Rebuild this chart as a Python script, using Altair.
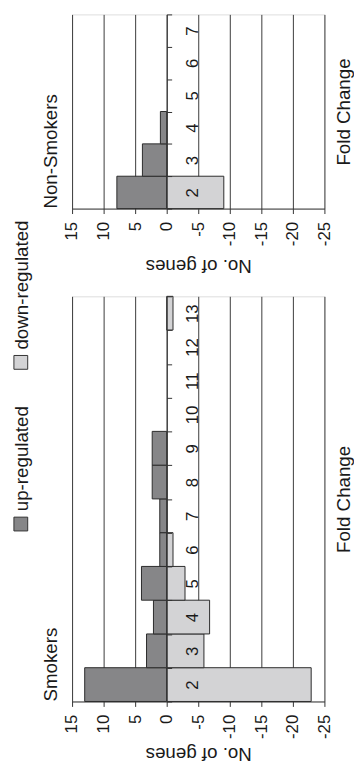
import altair as alt
import pandas as pd

FONT = "Liberation Sans"

directions = ["up-regulated", "down-regulated"]
colors = ["#868688", "#d3d3d5"]
gene_ticks = [15, 10, 5, 0, -5, -10, -15, -20, -25]

folds_smokers = [2, 3, 4, 5, 6, 7, 8, 9, 10, 11, 12, 13]
smokers_up = [13.0, 3.2, 2.1, 4.0, 1.1, 1.1, 2.3, 2.3, 0, 0, 0, 0]
smokers_down = [-22.9, -5.9, -6.8, -2.9, -1.0, 0, 0, 0, 0, 0, 0, -1.0]

folds_nonsmokers = [2, 3, 4, 5, 6, 7]
nonsmokers_up = [7.9, 3.85, 1.0, 0, 0, 0]
nonsmokers_down = [-9.05, 0, 0, 0, 0, 0]

panel_names = ["Non-Smokers", "Smokers"]

color_scale = alt.Scale(domain=directions, range=colors)


def long_table(folds, up, down):
    rows = []
    for f, u, d in zip(folds, up, down):
        if u:
            rows.append({"fold": f, "direction": directions[0], "value": u})
        if d:
            rows.append({"fold": f, "direction": directions[1], "value": d})
    return pd.DataFrame(rows)


def bars(folds, up, down, height, title_y):
    df = long_table(folds, up, down)
    return alt.Chart(df).mark_bar(stroke="#2b2b2b", strokeWidth=1, opacity=1).encode(
        x=alt.X(
            "value:Q",
            scale=alt.Scale(domain=[-25, 15], reverse=True, nice=False, zero=False),
            axis=alt.Axis(
                values=gene_ticks, labelExpr="'' + datum.value",
                title="No. of genes", titleAngle=180, titleY=title_y,
                titleBaseline="middle", titleFontSize=19, titleFontWeight="normal",
                titleColor="#1a1a1a", labelAngle=270, labelAlign="right",
                labelBaseline="middle", labelFontSize=17, labelPadding=8,
                labelFlush=False, labelOverlap=False, labelColor="#1a1a1a",
                tickSize=5, tickColor="#333", domainColor="#333",
                grid=True, gridColor="#3a3a3a", gridOpacity=1,
            ),
        ),
        x2=alt.datum(0),
        y=alt.Y(
            "fold:O",
            scale=alt.Scale(domain=folds[::-1], paddingInner=0, paddingOuter=0),
            axis=alt.Axis(
                orient="right", offset=-160, title="Fold Change", titleAngle=270,
                titleX=179, titleY=height / 2, titleBaseline="middle", titleAlign="center",
                titleFontSize=19, titleFontWeight="normal", titleColor="#1a1a1a",
                labelAngle=270, labelAlign="center", labelBaseline="middle",
                labelFontSize=17, labelPadding=21, labelColor="#1a1a1a",
                tickSize=5, tickBand="extent", tickColor="#333", domainColor="#333",
                grid=False, zindex=1,
            ),
        ),
        color=alt.Color("direction:N", scale=color_scale, legend=None),
    )


def panel_title(text, height):
    d = pd.DataFrame({"name": [text]})
    return alt.Chart(d).mark_text(angle=270, align="left", baseline="alphabetic",
                                  fontSize=19, color="#1a1a1a").encode(
        x=alt.value(-15), y=alt.value(height), text="name:N"
    )


def legend_item(i, ypix):
    d = pd.DataFrame({"direction": [directions[i]]})
    sq = alt.Chart(d).mark_square(size=196, stroke="#333", strokeWidth=1, opacity=1).encode(
        x=alt.value(-52), y=alt.value(ypix),
        color=alt.Color("direction:N", scale=color_scale, legend=None),
    )
    tx = alt.Chart(d).mark_text(angle=270, align="left", baseline="middle", dx=13,
                                fontSize=19, color="#1a1a1a").encode(
        x=alt.value(-50.5), y=alt.value(ypix), text="direction:N"
    )
    return [sq, tx]


H_NS, H_S = 197, 411

nonsmokers = alt.layer(
    bars(folds_nonsmokers, nonsmokers_up, nonsmokers_down, H_NS, 58),
    panel_title(panel_names[0], H_NS),
).properties(width=256, height=H_NS)

smokers = alt.layer(
    bars(folds_smokers, smokers_up, smokers_down, H_S, 53),
    panel_title(panel_names[1], H_S),
    *legend_item(0, 231),
    *legend_item(1, 67),
).properties(width=256, height=H_S)

chart = alt.vconcat(nonsmokers, smokers, spacing=89, bounds="flush").properties(
    padding={"left": 3, "top": 0, "right": 0, "bottom": 0},
    background="white",
).configure_view(stroke=None, strokeWidth=0).configure(font=FONT)

chart.save("out.html", embed_options={"renderer": "svg", "actions": False})
